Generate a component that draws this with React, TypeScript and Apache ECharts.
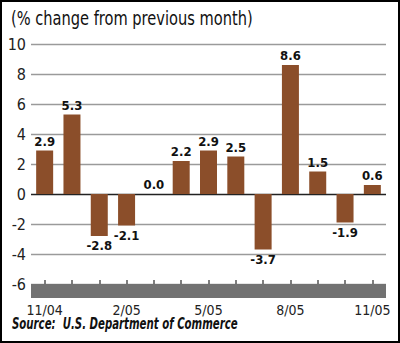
import React, { useEffect, useRef } from "react";
import * as echarts from "echarts";

const months = ["11/04", "12/04", "1/05", "2/05", "3/05", "4/05", "5/05", "6/05", "7/05", "8/05", "9/05", "10/05", "11/05"];
const changes = [2.9, 5.3, -2.8, -2.1, 0.0, 2.2, 2.9, 2.5, -3.7, 8.6, 1.5, -1.9, 0.6];
const yTicks = [-6, -4, -2, 0, 2, 4, 6, 8, 10];
const titleText = "(% change from previous month)";
const sourceText = "Source:  U.S. Department of Commerce";

const FONT = "'Liberation Sans Narrow', 'DejaVu Sans Condensed', 'Arial Narrow', sans-serif";

export default function App() {
  const ref = useRef<HTMLDivElement>(null);
  useEffect(() => {
    if (!ref.current) return;
    const chart = echarts.init(ref.current, undefined, { renderer: "svg" });
    const lineColors = yTicks.map((t) => (t === 0 ? "#222222" : "#9a9a9a"));
    chart.setOption({
      animation: false,
      backgroundColor: "#ffffff",
      grid: { left: 31, right: 14, top: 44, bottom: 59, containLabel: false },
      graphic: [
        {
          type: "text",
          x: 11,
          y: 9,
          scaleX: 0.856,
          style: {
            text: titleText,
            fontFamily: FONT,
            fontSize: 19,
            fill: "#111",
            verticalAlign: "top",
            align: "left",
          },
        },
        {
          type: "text",
          x: 12,
          y: 316,
          scaleX: 0.755,
          style: {
            text: sourceText,
            fontFamily: FONT,
            fontSize: 15,
            fontStyle: "italic",
            fontWeight: "bold",
            fill: "#111",
            verticalAlign: "top",
            align: "left",
          },
        },
      ],
      xAxis: [
        {
          type: "category",
          data: months,
          offset: 7,
          axisLine: { show: true, onZero: false, lineStyle: { color: "#727272", width: 14, cap: "butt" } },
          axisTick: { show: false },
          axisLabel: {
            interval: 2,
            margin: 12,
            fontFamily: FONT,
            fontSize: 14,
            color: "#222",
          },
          splitLine: { show: false },
        },
        {
          type: "category",
          data: months,
          position: "bottom",
          offset: 0,
          axisLine: { show: false, onZero: false },
          axisTick: {
            show: true,
            interval: 0,
            alignWithLabel: true,
            inside: true,
            length: 4,
            lineStyle: { color: "#555", width: 1.5 },
          },
          axisLabel: { show: false },
          splitLine: { show: false },
        },
      ],
      yAxis: {
        type: "value",
        min: -6,
        max: 10,
        interval: 2,
        axisLine: { show: false },
        axisTick: { show: false },
        axisLabel: { margin: 5, fontFamily: FONT, fontSize: 16, color: "#222" },
        splitLine: { show: true, lineStyle: { color: lineColors, width: 1.3 } },
      },
      series: [
        {
          type: "bar",
          barWidth: 17,
          xAxisIndex: 0,
          itemStyle: { color: "#8b4e2a" },
          data: changes.map((v) => ({
            value: v,
            label: { position: v < 0 ? "bottom" : "top" },
          })),
          label: {
            show: true,
            distance: 3,
            formatter: (p: any) => Number(p.value).toFixed(1),
            fontFamily: FONT,
            fontSize: 13,
            fontWeight: "bold",
            color: "#111",
          },
        },
      ],
    });
    return () => chart.dispose();
  }, []);
  return (
    <div style={{ position: "absolute", left: 0, top: 0, width: 400, height: 343 }}>
      <div ref={ref} style={{ width: 400, height: 343 }} />
      <div
        style={{
          position: "absolute",
          left: 0,
          top: 0,
          width: 400,
          height: 343,
          boxSizing: "border-box",
          border: "2px solid #000",
          pointerEvents: "none",
        }}
      />
    </div>
  );
}
